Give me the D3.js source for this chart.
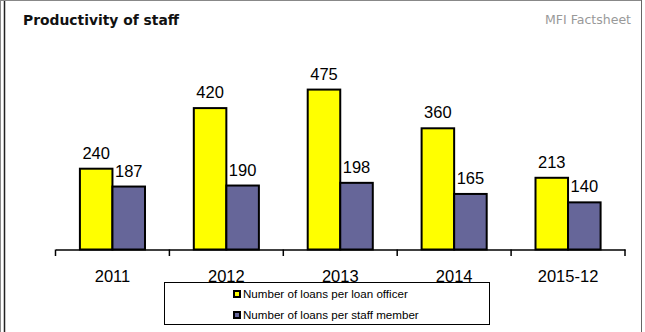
<!DOCTYPE html>
<html>
<head>
<meta charset="utf-8">
<script src="https://cdn.jsdelivr.net/npm/d3@7"></script>
<style>
  html, body { margin: 0; padding: 0; background: #fff; }
  svg { display: block; }
</style>
</head>
<body>
<svg id="chart" width="645" height="332"></svg>
<script>
// Loans per year
const categories = ["2011", "2012", "2013", "2014", "2015-12"];
const loansPerOfficer = [240, 420, 475, 360, 213];
const loansPerStaff = [187, 190, 198, 165, 140];
const seriesNames = ["Number of loans per loan officer", "Number of loans per staff member"];
const seriesColors = ["#FFFF00", "#666699"];

const svg = d3.select("#chart");

// Frame
svg.append("line").attr("x1", 0.5).attr("x2", 0.5).attr("y1", 0).attr("y2", 332).attr("stroke", "#888").attr("stroke-width", 1);
svg.append("line").attr("x1", 4.5).attr("x2", 4.5).attr("y1", 0).attr("y2", 332).attr("stroke", "#222").attr("stroke-width", 1.5);
svg.append("line").attr("x1", 0).attr("x2", 642).attr("y1", 0.5).attr("y2", 0.5).attr("stroke", "#888").attr("stroke-width", 1);
svg.append("line").attr("x1", 641.5).attr("x2", 641.5).attr("y1", 0).attr("y2", 332).attr("stroke", "#666").attr("stroke-width", 1);

// Header
svg.append("text").attr("x", 23).attr("y", 25)
  .attr("font-family", "DejaVu Sans").attr("font-weight", "bold").attr("font-size", 14.5)
  .attr("textLength", 156).attr("lengthAdjust", "spacingAndGlyphs")
  .attr("fill", "#111").text("Productivity of staff");
svg.append("text").attr("x", 631).attr("y", 24).attr("text-anchor", "end")
  .attr("font-family", "DejaVu Sans").attr("font-size", 13)
  .attr("textLength", 86).attr("lengthAdjust", "spacingAndGlyphs")
  .attr("fill", "#999").text("MFI Factsheet");

// Scales
const x0 = d3.scaleBand().domain(categories).range([55.5, 625]).padding(0);
const x1 = d3.scaleBand().domain([0, 1]).range([0, x0.bandwidth()]).paddingInner(0).paddingOuter(0.75);
const y = d3.scaleLinear().domain([0, 600]).range([249.5, 47.5]);

const rows = categories.map((c, i) => ({ cat: c, vals: [loansPerOfficer[i], loansPerStaff[i]] }));

const groups = svg.append("g").selectAll("g").data(rows).join("g")
  .attr("transform", d => `translate(${x0(d.cat)},0)`);

groups.selectAll("rect").data(d => d.vals.map((v, s) => ({ v, s }))).join("rect")
  .attr("x", d => x1(d.s))
  .attr("y", d => y(d.v))
  .attr("width", x1.bandwidth())
  .attr("height", d => y(0) - y(d.v))
  .attr("fill", d => seriesColors[d.s])
  .attr("stroke", "#000").attr("stroke-width", 2);

groups.selectAll("text.val").data(d => d.vals.map((v, s) => ({ v, s }))).join("text")
  .attr("class", "val")
  .attr("x", d => x1(d.s) + x1.bandwidth() / 2)
  .attr("y", d => y(d.v) - 10)
  .attr("text-anchor", "middle")
  .attr("font-family", "Liberation Sans, Arial, sans-serif").attr("font-size", 16.5)
  .attr("fill", "#000").text(d => d.v);

// Category axis
const axis = d3.axisBottom(x0).tickSizeInner(0).tickSizeOuter(0).tickPadding(0);
const ax = svg.append("g").attr("transform", `translate(0,${y(0)})`).call(axis);
ax.select(".domain").attr("stroke", "#000").attr("stroke-width", 1.5);
ax.selectAll(".tick line").remove();
ax.selectAll(".tick text")
  .attr("y", 32.5).attr("dy", 0)
  .attr("font-family", "Liberation Sans, Arial, sans-serif").attr("font-size", 16.5).attr("fill", "#000");
// Tick marks at category boundaries
const bounds = categories.map(c => x0(c)).concat([x0.range()[1]]);
ax.selectAll("line.bound").data(bounds).join("line").attr("class", "bound")
  .attr("x1", d => d).attr("x2", d => d).attr("y1", 0).attr("y2", 6.5)
  .attr("stroke", "#000").attr("stroke-width", 1.5);

// Legend
const lg = svg.append("g");
lg.append("rect").attr("x", 164.5).attr("y", 282.5).attr("width", 325).attr("height", 42)
  .attr("fill", "#fff").attr("stroke", "#000").attr("stroke-width", 1);
seriesNames.forEach((name, i) => {
  const yy = 290 + i * 21;
  lg.append("rect").attr("x", 234).attr("y", yy + 1).attr("width", 6).attr("height", 6)
    .attr("fill", seriesColors[i]).attr("stroke", "#000").attr("stroke-width", 2);
  lg.append("text").attr("x", 243).attr("y", yy + 8)
    .attr("font-family", "Liberation Sans, Arial, sans-serif").attr("font-size", 11.6)
    .attr("fill", "#000").text(name);
});
</script>
</body>
</html>
